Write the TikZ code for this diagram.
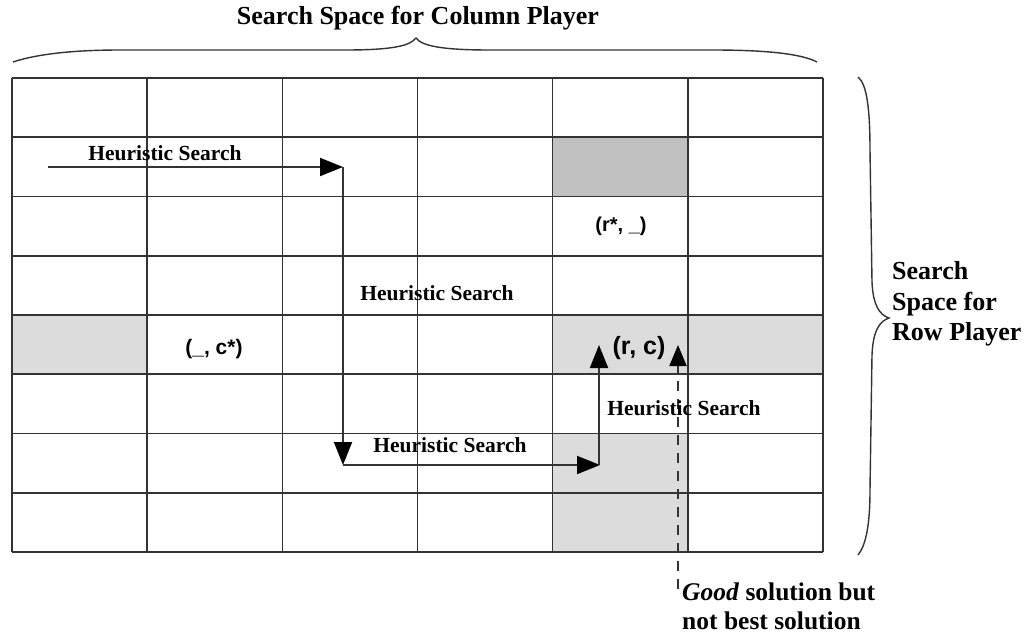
\documentclass[tikz,border=0pt]{standalone}
\usepackage{fontspec}
\setmainfont{Liberation Serif}
\setsansfont{Liberation Sans}
\usetikzlibrary{arrows.meta}
\definecolor{lightcell}{HTML}{DCDCDC}
\definecolor{darkcell}{HTML}{C0C0C0}
\definecolor{gridline}{HTML}{333333}
\definecolor{arrline}{HTML}{333333}
\tikzset{
  gridstyle/.style={draw=gridline, line width=1.6pt},
  searcharrow/.style={draw=arrline, line width=1.9pt, -{Triangle[length=23pt,width=18pt,color=black]}},
  dasharrow/.style={draw=arrline, line width=1.9pt, dash pattern=on 10pt off 8pt, -{Triangle[length=21pt,width=17pt,color=black]}},
  hlabel/.style={font=\fontsize{21.5}{24}\selectfont\bfseries, inner sep=0pt},
  pairlabel/.style={font=\sffamily\bfseries, inner sep=0pt},
  bigtext/.style={font=\fontsize{26}{30}\selectfont\bfseries, inner sep=0pt},
  bracestyle/.style={draw=arrline, line width=1.4pt}
}
\begin{document}
\begin{tikzpicture}[x=1pt,y=-1pt]
\useasboundingbox (0,0) rectangle (1031,635);
% shaded cells
\fill[lightcell] (12,315) rectangle (147.17,374.25);
\fill[lightcell] (552.67,315) rectangle (823,374.25);
\fill[lightcell] (552.67,433.5) rectangle (687.83,552);
\fill[darkcell] (552.67,137.25) rectangle (687.83,196.5);
% grid
\foreach \i in {0,...,8} {
  \draw[gridstyle] (12,78+59.25*\i) -- (823,78+59.25*\i);
}
\foreach \j in {0,...,6} {
  \draw[gridstyle] (12+135.1667*\j,78) -- (12+135.1667*\j,552);
}
% braces
\draw[bracestyle] (13,62) .. controls (40,53) and (80,50) .. (120,50) -- (345,50)
  .. controls (392,50) and (410,46) .. (416,38)
  .. controls (422,46) and (442,50) .. (490,50) -- (713,50)
  .. controls (760,50) and (800,53) .. (817,62);
\draw[bracestyle] (858,77) .. controls (867,84) and (870,110) .. (870,150) -- (872,282)
  .. controls (873,306) and (880,315) .. (889,318)
  .. controls (880,321) and (873,330) .. (872,355) -- (870,490)
  .. controls (870,525) and (866,545) .. (858,555);
% path coordinates
\coordinate (a1) at (48,167);
\coordinate (a2) at (343,167);
\coordinate (a3) at (343,465);
\coordinate (a4) at (600,465);
\coordinate (a5) at (599,345);
\coordinate (a6) at (599,465);
\coordinate (d1) at (678,589);
\coordinate (d2) at (678,345);
\draw[searcharrow] (a1) -- (a2);
\draw[searcharrow] (a2) -- (a3);
\draw[searcharrow] (a3) -- (a4);
\draw[searcharrow] (a6) -- (a5);
\draw[dasharrow] (d1) -- (d2);
% labels
\node[hlabel] (h1) at (165,153) {Heuristic Search};
\node[hlabel] (h2) at (437,293) {Heuristic Search};
\node[hlabel] (h3) at (450,445) {Heuristic Search};
\node[hlabel] (h4) at (684,408) {Heuristic Search};
\node[pairlabel, font=\sffamily\bfseries\fontsize{20}{22}\selectfont] (rs) at (621,226) {(r*, \_)};
\node[pairlabel, font=\sffamily\bfseries\fontsize{21}{24}\selectfont] (cs) at (214,349) {(\_, c*)};
\node[pairlabel, font=\sffamily\bfseries\fontsize{25}{28}\selectfont] (rc) at (639,348) {(r, c)};
\node[bigtext] (title) at (418,18) {Search Space for Column Player};
\node[bigtext, anchor=west, align=left, font=\fontsize{26}{30.5}\selectfont\bfseries] (row) at (892,304) {Search\\Space for\\Row Player};
\node[bigtext, anchor=west, align=left, font=\fontsize{25.5}{29}\selectfont\bfseries] (good) at (682,606) {\textit{Good} solution but\\not best solution};
\end{tikzpicture}
\end{document}
